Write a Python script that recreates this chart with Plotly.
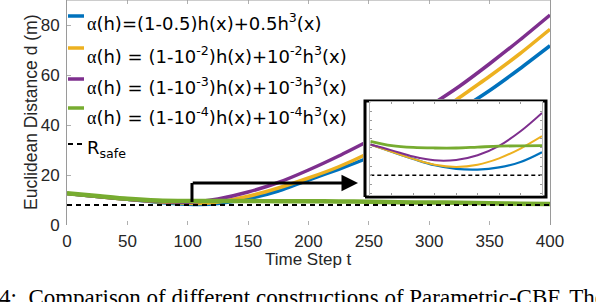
import plotly.graph_objects as go

# ---------------- data ----------------
t_main = [0, 25, 50, 75, 100, 110, 125, 150, 175, 200, 225, 250, 275, 300, 325, 350, 375, 400]
d_blue = [12.6, 11.4, 10.3, 9.1, 8.3, 8.2, 8.6, 10.5, 13.6, 18.0, 22.3, 27.0, 32.5, 38.8, 46.0, 53.8, 62.5, 71.7]
d_orange = [12.6, 11.4, 10.3, 9.3, 8.7, 8.6, 9.2, 11.5, 14.8, 18.8, 23.3, 28.8, 35.3, 42.5, 51.0, 59.5, 68.5, 78.3]
d_purple = [12.6, 11.4, 10.3, 9.5, 9.1, 9.4, 10.4, 13.2, 17.0, 22.0, 27.6, 33.7, 40.0, 47.5, 55.5, 64.5, 74.0, 84.0]
d_green = [12.7, 11.6, 10.5, 9.8, 9.6, 9.6, 9.6, 9.6, 9.5, 9.5, 9.4, 9.3, 9.1, 9.0, 8.9, 8.7, 8.55, 8.4]
r_safe = 8.0
t_span = [0, 400]

# inset (zoomed view)
t_inset = [60, 70, 80, 90, 100, 110, 120, 130, 140]
i_blue = [9.69, 9.29, 8.90, 8.55, 8.35, 8.31, 8.43, 8.73, 9.27]
i_orange = [9.69, 9.29, 8.90, 8.58, 8.46, 8.58, 8.93, 9.47, 10.15]
i_purple = [9.69, 9.37, 9.03, 8.82, 8.84, 9.10, 9.62, 10.42, 11.43]
i_green = [9.87, 9.63, 9.53, 9.50, 9.50, 9.55, 9.60, 9.62, 9.63]
t_inset_span = [60, 140]

x_ticks = [0, 50, 100, 150, 200, 250, 300, 350, 400]
y_ticks = [0, 20, 40, 60, 80]

ALPHA = '<span style="font-family:Liberation Serif">α</span>'
legend_labels = [
    ALPHA + '(h)=(1-0.5)h(x)+0.5h<sup>3</sup>(x)',
    ALPHA + '(h) = (1-10<sup>-2</sup>)h(x)+10<sup>-2</sup>h<sup>3</sup>(x)',
    ALPHA + '(h) = (1-10<sup>-3</sup>)h(x)+10<sup>-3</sup>h<sup>3</sup>(x)',
    ALPHA + '(h) = (1-10<sup>-4</sup>)h(x)+10<sup>-4</sup>h<sup>3</sup>(x)',
]
colors = ["#0072BD", "#EDB120", "#7E2F8E", "#77AC30"]

# ---------------- layout helpers (pixels -> paper) ----------------
W, H = 596, 302
L, R, T, B = 67, 550, 0, 225


def fx(px):
    return (px - L) / (R - L)


def fy(py):
    return (B - py) / (B - T)


FONT = "Liberation Sans, Arial, sans-serif"
LEGFONT = "DejaVu Sans, sans-serif"
TXT = "#262626"

fig = go.Figure()

# main traces
main_series = [d_blue, d_orange, d_purple, d_green]
widths = [3.5, 3.5, 3.5, 4.5]
for d, c, w in zip(main_series, colors, widths):
    fig.add_trace(go.Scatter(x=t_main, y=d, mode="lines", line=dict(color=c, width=w, shape="spline", smoothing=0.6),
                             xaxis="x", yaxis="y", showlegend=False, hoverinfo="skip"))
fig.add_trace(go.Scatter(x=t_span, y=[r_safe, r_safe], mode="lines",
                         line=dict(color="black", width=2, dash="5px,4px"),
                         xaxis="x", yaxis="y", showlegend=False, hoverinfo="skip"))

# white cover panel with black frame for the inset
fig.add_trace(go.Scatter(x=[0, 1, 1, 0, 0], y=[0, 0, 1, 1, 0], mode="lines", fill="toself",
                         fillcolor="white", line=dict(color="black", width=3),
                         xaxis="x2", yaxis="y2", showlegend=False, hoverinfo="skip"))

# inset traces
inset_series = [i_blue, i_orange, i_purple, i_green]
iw = [2.2, 2, 2, 2.8]
for d, c, w in zip(inset_series, colors, iw):
    fig.add_trace(go.Scatter(x=t_inset, y=d, mode="lines", line=dict(color=c, width=w, shape="spline"),
                             xaxis="x3", yaxis="y3", showlegend=False, hoverinfo="skip"))
fig.add_trace(go.Scatter(x=t_inset_span, y=[r_safe, r_safe], mode="lines",
                         line=dict(color="black", width=1.6, dash="4px,3px"),
                         xaxis="x3", yaxis="y3", showlegend=False, hoverinfo="skip"))

# frame domain for cover panel
bx0, bx1, by0, by1 = 365, 546, 101, 197
cx0, cx1, cy0, cy1 = 363, 548, 99, 199
xr2 = [(cx0 - bx0) / (bx1 - bx0), 1 + (cx1 - bx1) / (bx1 - bx0)]
yr2 = [-(cy1 - by1) / (by1 - by0), 1 + (by0 - cy0) / (by1 - by0)]

shapes = [
    dict(type="line", xref="paper", yref="paper", x0=0, x1=1, y0=1, y1=1, line=dict(color="#9a9a9a", width=1)),
]
annotations = []

# legend (manual)
leg_line_y = [16, 48, 79, 108]
leg_text_y = [22, 55, 86, 116]
for c, ly, ty, lab in zip(colors, leg_line_y, leg_text_y, legend_labels):
    shapes.append(dict(type="line", xref="paper", yref="paper", x0=fx(68), x1=fx(84), y0=fy(ly), y1=fy(ly),
                       line=dict(color=c, width=3.5)))
    annotations.append(dict(text=lab, xref="paper", yref="paper", x=fx(85), y=fy(ty), xanchor="left",
                            yanchor="middle", showarrow=False, font=dict(family=LEGFONT, size=18, color="black")))
shapes.append(dict(type="line", xref="paper", yref="paper", x0=fx(68), x1=fx(84), y0=fy(144), y1=fy(144),
                   line=dict(color="black", width=2, dash="5px,4px")))
annotations.append(dict(text="R<sub>safe</sub>", xref="paper", yref="paper", x=fx(85), y=fy(149),
                        xanchor="left", yanchor="middle", showarrow=False,
                        font=dict(family=LEGFONT, size=18, color="black")))

# arrow pointing to inset
arrow_t0, arrow_t1, arrow_d0, arrow_d1 = 103.5, 241, 9.2, 16.8
shapes.append(dict(type="line", xref="x", yref="y", x0=arrow_t0, x1=arrow_t0, y0=arrow_d0, y1=arrow_d1,
                   line=dict(color="black", width=3)))
annotations.append(dict(x=arrow_t1, y=arrow_d1, ax=arrow_t0 - 0.6, ay=arrow_d1, xref="x", yref="y",
                        axref="x", ayref="y", text="", showarrow=True, arrowhead=2, arrowsize=1.1,
                        arrowwidth=3, arrowcolor="black"))

# axis titles
annotations.append(dict(text="Euclidean Distance d (m)", xref="paper", yref="paper", x=fx(31), y=fy(112),
                        textangle=-90, showarrow=False, xanchor="center", yanchor="middle",
                        font=dict(family=FONT, size=17.5, color=TXT)))
annotations.append(dict(text="Time Step t", xref="paper", yref="paper", x=fx(308), y=fy(259),
                        showarrow=False, xanchor="center", yanchor="middle",
                        font=dict(family=FONT, size=17, color=TXT)))
# caption
annotations.append(dict(text="4:  Comparison of different constructions of Parametric-CBF. The proposed",
                        xref="paper", yref="paper", x=fx(-3), y=fy(297), xanchor="left", yanchor="middle",
                        showarrow=False, font=dict(family="Liberation Serif, Times New Roman, serif", size=23,
                                                   color="black")))

fig.update_layout(
    width=W, height=H,
    margin=dict(l=L, r=W - R, t=T, b=H - B, pad=0),
    paper_bgcolor="white", plot_bgcolor="white",
    showlegend=False,
    xaxis=dict(domain=[0, 1], range=[0, 400], tickvals=x_ticks, ticks="inside", ticklen=4, tickcolor="#b0b0b0",
               showline=False, mirror="ticks", showgrid=False, zeroline=False,
               tickfont=dict(family=FONT, size=17, color=TXT), ticklabelstandoff=4),
    yaxis=dict(domain=[0, 1], range=[0, 90], tickvals=y_ticks, ticks="inside", ticklen=4, tickcolor="#b0b0b0",
               showline=True, linecolor="#9a9a9a", linewidth=1, mirror=True, showgrid=False, zeroline=False,
               tickfont=dict(family=FONT, size=17, color=TXT), ticklabelstandoff=3),
    xaxis2=dict(domain=[fx(cx0), fx(cx1)], range=xr2, visible=False, anchor="y2"),
    yaxis2=dict(domain=[fy(cy1), fy(cy0)], range=yr2, visible=False, anchor="x2"),
    xaxis3=dict(domain=[fx(370.3), fx(542)], range=[60, 140], dtick=10, tick0=60, anchor="y3",
                showticklabels=False, ticks="inside", ticklen=2, tickcolor="#9a9a9a",
                showline=True, linecolor="#b5b5b5", linewidth=1, mirror="ticks", showgrid=False, zeroline=False),
    yaxis3=dict(domain=[fy(194.7), fy(102)], range=[6.93, 12.03], dtick=0.5, tick0=8, anchor="x3",
                showticklabels=False, ticks="inside", ticklen=2, tickcolor="#9a9a9a",
                showline=True, linecolor="#b5b5b5", linewidth=1, mirror="ticks", showgrid=False, zeroline=False),
    shapes=shapes,
    annotations=annotations,
)

fig.write_html("out.html", config={"displayModeBar": False},
               post_script="document.body.style.margin='0px';")
